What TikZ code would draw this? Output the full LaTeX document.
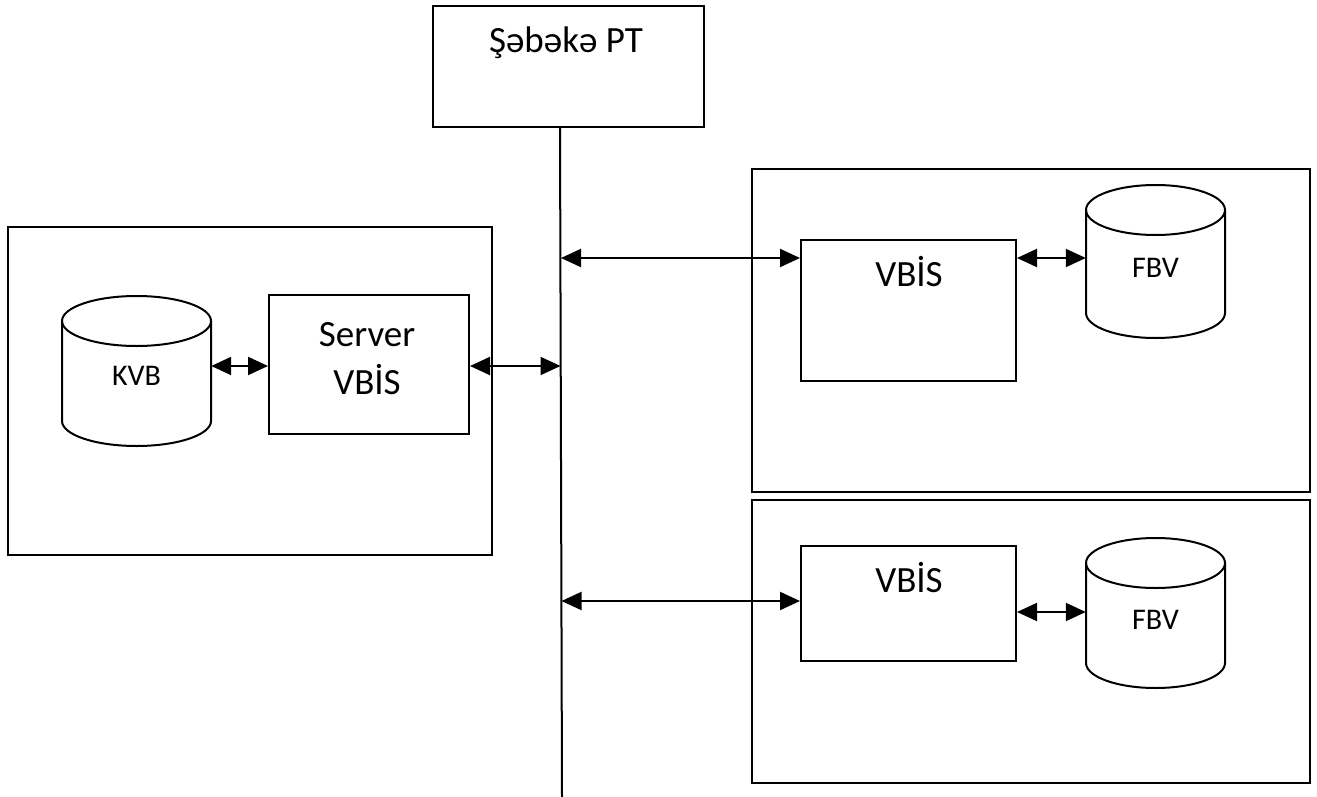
\documentclass[tikz,border=0pt]{standalone}
\usepackage{fontspec}
\setmainfont{Carlito}
\usetikzlibrary{arrows.meta}

\begin{document}
\begin{tikzpicture}[x=1pt,y=-1pt,
  frame/.style={draw=black, line width=2pt, inner sep=0pt},
  bigtext/.style={font=\fontsize{37}{48}\selectfont, inner sep=0pt, anchor=base},
  smalltext/.style={font=\fontsize{30}{34}\selectfont, inner sep=0pt, anchor=base},
  biarrow/.style={line width=2pt, {Triangle[length=20pt,width=18pt]}-{Triangle[length=20pt,width=18pt]}},
  busline/.style={line width=2pt},
  dbshape/.style={line width=2pt}
]
\useasboundingbox (0,0) rectangle (1317,797);

% rectangular frames, given by corners in picture coordinates
\newcommand{\frameat}[5]{%
  \node[frame, minimum width={#4-#2}, minimum height={#5-#3}] (#1) at ({(#2+#4)/2},{(#3+#5)/2}) {};}

% database cylinder: name, centre x, top cap y, bottom cap y, x radius, y radius
\newcommand{\dbcyl}[6]{%
  \draw[dbshape] ({#2-#5},#3) -- ({#2-#5},#4)
     arc[start angle=180, end angle=360, x radius=#5pt, y radius=#6pt]
     -- ({#2+#5},#3);
  \draw[dbshape] (#2,#3) ellipse[x radius=#5pt, y radius=#6pt];
  \node[inner sep=0pt, minimum width={2*#5}, minimum height={#4-#3+2*#6}] (#1) at (#2,{(#3+#4)/2}) {};}

% network node and the shared bus
\frameat{net}{433}{6}{704}{127}
\node[bigtext] at (566,53) {Şəbəkə PT};
\coordinate (bt) at (560,127);
\coordinate (bb) at (562,797);
\draw[busline] (net.south -| bt) -- (bb);

% central server site
\frameat{lsite}{8}{227}{492}{555}
\frameat{srv}{269}{295}{469}{434}
\node[bigtext] at (367,346) {Server};
\node[bigtext] at (367,394) {VBİS};
\dbcyl{kvb}{136.5}{321}{421}{74.5}{25}
\node[smalltext] at (136.5,385) {KVB};

% first client site
\frameat{rsite1}{752}{169}{1310}{492}
\frameat{vb1}{801}{240}{1016}{381}
\node[bigtext] at (909,286) {VBİS};
\dbcyl{fbv1}{1155.5}{210}{313}{69.5}{25}
\node[smalltext] at (1155.5,277) {FBV};

% second client site
\frameat{rsite2}{752}{500}{1310}{783}
\frameat{vb2}{801}{546}{1016}{661}
\node[bigtext] at (909,592) {VBİS};
\dbcyl{fbv2}{1155.5}{563}{663}{69.5}{25}
\node[smalltext] at (1155.5,629) {FBV};

% points where the links meet the bus
\coordinate (b2) at (560.5,366);
\coordinate (b3) at (561,258);
\coordinate (b5) at (561.5,601);
\coordinate (c6) at (1016,612);

% links
\draw[biarrow] (kvb.east |- b2) -- (srv.west |- b2);
\draw[biarrow] (srv.east |- b2) -- (b2);
\draw[biarrow] (b3) -- (b3 -| vb1.west);
\draw[biarrow] (vb1.east |- b3) -- (fbv1.west |- b3);
\draw[biarrow] (b5) -- (b5 -| vb2.west);
\draw[biarrow] (vb2.east |- c6) -- (fbv2.west |- c6);
\end{tikzpicture}
\end{document}
